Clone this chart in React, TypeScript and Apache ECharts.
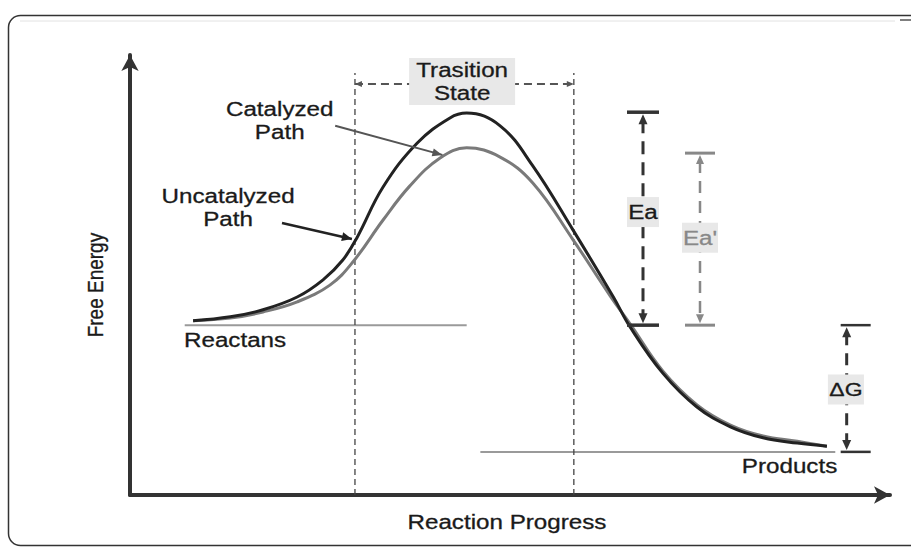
import React, { useEffect, useRef } from "react";
import * as echarts from "echarts";

// Reaction progress (x, 0-100) and free energy (y, 0-100)
const uncatX = [8.3, 13.2, 17.5, 22.0, 25.4, 28.0, 29.9, 33.3, 37.8, 42.1, 44.3, 48.7, 53.0, 58.3, 63.6, 65.8, 70.1, 74.6, 79.0, 83.3, 87.8, 91.7];
const uncatY = [39.6, 40.5, 42.1, 45.0, 48.9, 53.4, 58.6, 70.0, 80.0, 85.7, 86.8, 83.9, 74.8, 60.2, 45.0, 38.2, 27.7, 20.0, 15.5, 13.0, 11.8, 11.1];
const catX = [8.3, 13.2, 17.5, 22.0, 26.3, 29.3, 33.3, 36.8, 40.8, 44.3, 48.7, 53.0, 58.3, 63.2, 65.8, 70.1, 74.6, 79.0, 83.3, 87.8, 91.7];
const catY = [39.6, 40.2, 41.6, 43.9, 47.7, 52.9, 62.5, 70.2, 76.6, 78.9, 76.8, 70.9, 58.0, 45.2, 38.9, 28.2, 20.5, 15.9, 13.4, 12.2, 11.1];

const reactantLevel = 38.6;
const productLevel = 9.8;
const reactantSpan = [7.2, 44.3];
const productSpan = [46.1, 92.8];
const tsBounds = [29.6, 58.4];
const tsTop = 95.9;
const tsBar = 93.4;
const eaX = 67.5;
const eaTop = 87.0;
const eaPrimeX = 75.0;
const eaPrimeTop = 77.7;
const dgX = 94.3;

const FONT = '"Liberation Sans", Arial, Helvetica, sans-serif';
const SX = 1.21;

export default function App() {
  const ref = useRef<HTMLDivElement>(null);
  useEffect(() => {
    if (!ref.current) return;
    const chart = echarts.init(ref.current, null, { renderer: "svg" });
    const axisCommon = {
      type: "value" as const,
      min: 0,
      max: 100,
      axisTick: { show: false },
      axisLabel: { show: false },
      splitLine: { show: false },
      axisLine: {
        show: true,
        symbol: ["none", "arrow"],
        symbolSize: [13, 16],
        lineStyle: { color: "#333", width: 4 },
      },
    };
    chart.setOption({
      animation: false,
      backgroundColor: "#fff",
      grid: { left: 130, right: 21, top: 55, bottom: 52 },
      xAxis: { ...axisCommon },
      yAxis: { ...axisCommon },
      series: [
        {
          name: "Catalyzed Path",
          type: "line",
          smooth: 0.4,
          showSymbol: false,
          data: catX.map((x, i) => [x, catY[i]]),
          lineStyle: { color: "#7a7a7a", width: 3 },
          z: 3,
        },
        {
          name: "Uncatalyzed Path",
          type: "line",
          smooth: 0.4,
          showSymbol: false,
          data: uncatX.map((x, i) => [x, uncatY[i]]),
          lineStyle: { color: "#222", width: 3 },
          z: 4,
        },
      ],
    });

    const P = (x: number, y: number) => chart.convertToPixel({ gridIndex: 0 }, [x, y]) as number[];
    const g: any[] = [];
    const line = (a: number[], b: number[], color: string, width: number, dash?: number[], z = 5) =>
      g.push({
        type: "line",
        shape: { x1: a[0], y1: a[1], x2: b[0], y2: b[1] },
        style: { stroke: color, lineWidth: width, lineDash: dash || null },
        z,
      });
    const head = (from: number[], tip: number[], color: string, L = 10, W = 4.5, z = 6) => {
      const dx = tip[0] - from[0], dy = tip[1] - from[1];
      const len = Math.hypot(dx, dy) || 1;
      const ux = dx / len, uy = dy / len;
      const bx = tip[0] - ux * L, by = tip[1] - uy * L;
      g.push({
        type: "polygon",
        shape: { points: [tip, [bx - uy * W, by + ux * W], [bx + uy * W, by - ux * W]] },
        style: { fill: color },
        z,
      });
    };
    const text = (p: number[], s: string, size: number, color = "#1a1a1a", align = "center", rot = 0, z = 8) =>
      g.push({
        type: "text",
        x: p[0],
        y: p[1],
        rotation: rot,
        scaleX: rot ? 1 : SX,
        scaleY: rot ? SX : 1,
        style: { text: s, font: `${size}px ${FONT}`, fill: color, textAlign: align, textVerticalAlign: "middle", lineHeight: 23, stroke: color, lineWidth: 0.3 },
        z,
      });
    const box = (c: number[], w: number, h: number, z = 7) =>
      g.push({ type: "rect", shape: { x: c[0] - w / 2, y: c[1] - h / 2, width: w, height: h }, style: { fill: "#e8e8e8" }, z });

    // border
    g.push({ type: "rect", shape: { x: 8.5, y: 15.5, width: 940, height: 530, r: 12 }, style: { fill: "none", stroke: "#333", lineWidth: 1.5 }, z: 1 });
    g.push({ type: "line", shape: { x1: 20, y1: 21, x2: 895, y2: 21 }, style: { stroke: "#e2e2e2", lineWidth: 1 }, z: 1 });
    g.push({ type: "line", shape: { x1: 900, y1: 20, x2: 911, y2: 20 }, style: { stroke: "#555", lineWidth: 1.5 }, z: 1 });

    // reactant / product levels
    line(P(reactantSpan[0], reactantLevel), P(reactantSpan[1], reactantLevel), "#9a9a9a", 2, undefined, 2);
    line(P(productSpan[0], productLevel), P(productSpan[1], productLevel), "#9a9a9a", 2, undefined, 2);

    // transition state bounds
    for (const bx of tsBounds) line(P(bx, 0), P(bx, tsTop), "#444", 1.3, [6, 4], 2);
    const tl = P(tsBounds[0], tsBar), tr = P(tsBounds[1], tsBar);
    line(tl, tr, "#555", 2, [8, 5], 2);
    head(tr, tl, "#555", 7, 3);
    head(tl, tr, "#555", 7, 3);
    const tsc = P((tsBounds[0] + tsBounds[1]) / 2 - 0.3, tsBar);
    box([tsc[0], tsc[1] - 2.5], 106, 47);
    text([tsc[0], tsc[1] - 2.5], "Trasition\nState", 20);

    // Ea
    const eaT = P(eaX, eaTop), eaB = P(eaX, reactantLevel);
    line([eaT[0] - 16, eaT[1]], [eaT[0] + 16, eaT[1]], "#333", 3.5);
    line([eaB[0] - 16, eaB[1]], [eaB[0] + 16, eaB[1]], "#333", 3.5);
    line([eaT[0], eaT[1] + 8], [eaB[0], eaB[1] - 8], "#333", 3, [13, 8]);
    head(eaB, [eaT[0], eaT[1] + 2], "#333", 10, 4.5);
    head(eaT, [eaB[0], eaB[1] - 2], "#333", 10, 4.5);
    const eac = P(eaX, (eaTop + reactantLevel) / 2 + 1.5);
    box(eac, 32, 30);
    text(eac, "Ea", 20, "#1a1a1a");

    // Ea'
    const epT = P(eaPrimeX, eaPrimeTop), epB = P(eaPrimeX, reactantLevel);
    line([epT[0] - 15, epT[1]], [epT[0] + 15, epT[1]], "#888", 3);
    line([epB[0] - 15, epB[1]], [epB[0] + 15, epB[1]], "#888", 3);
    line([epT[0], epT[1] + 8], [epB[0], epB[1] - 8], "#888", 2.5, [12, 8]);
    head(epB, [epT[0], epT[1] + 2], "#888", 9, 4);
    head(epT, [epB[0], epB[1] - 2], "#888", 9, 4);
    const epc = P(eaPrimeX, (eaPrimeTop + reactantLevel) / 2 + 0.3);
    box(epc, 36, 30);
    text(epc, "Ea'", 20, "#888");

    // ΔG
    const dT = P(dgX, reactantLevel), dB = P(dgX, productLevel);
    line([dT[0] - 6, dT[1]], [dT[0] + 24, dT[1]], "#333", 2.5);
    line([dB[0] - 6, dB[1]], [dB[0] + 24, dB[1]], "#333", 2.5);
    line([dT[0], dT[1] + 8], [dB[0], dB[1] - 8], "#333", 3, [12, 8]);
    head(dB, [dT[0], dT[1] + 2], "#333", 10, 4.5);
    head(dT, [dB[0], dB[1] - 2], "#333", 10, 4.5);
    const dc = P(dgX - 0.1, (reactantLevel + productLevel) / 2 - 0.2);
    box(dc, 36, 30);
    text(dc, "ΔG", 19, "#1a1a1a");

    // path labels with pointers
    text(P(19.7, 85.0), "Catalyzed\nPath", 20);
    text(P(12.9, 65.2), "Uncatalyzed\nPath", 20);
    const ca = P(27.0, 83.9), cb = P(41.1, 77.3);
    line(ca, cb, "#555", 2);
    head(ca, cb, "#555", 10, 4);
    const ua = P(20.0, 61.8), ub = P(29.2, 58.2);
    line(ua, ub, "#222", 2.5);
    head(ua, ub, "#222", 10, 4.5);

    text(P(7.1, 35.2), "Reactans", 20, "#1a1a1a", "left");
    text(P(80.5, 6.6), "Products", 20, "#1a1a1a", "left");
    text(P(49.6, -6.1), "Reaction Progress", 20);
    text(P(-4.6, 47.7), "Free Energy", 19, "#1a1a1a", "center", Math.PI / 2);

    chart.setOption({ graphic: g });
    return () => chart.dispose();
  }, []);
  return <div ref={ref} style={{ width: 911, height: 547, position: "absolute", left: 0, top: 0 }} />;
}
